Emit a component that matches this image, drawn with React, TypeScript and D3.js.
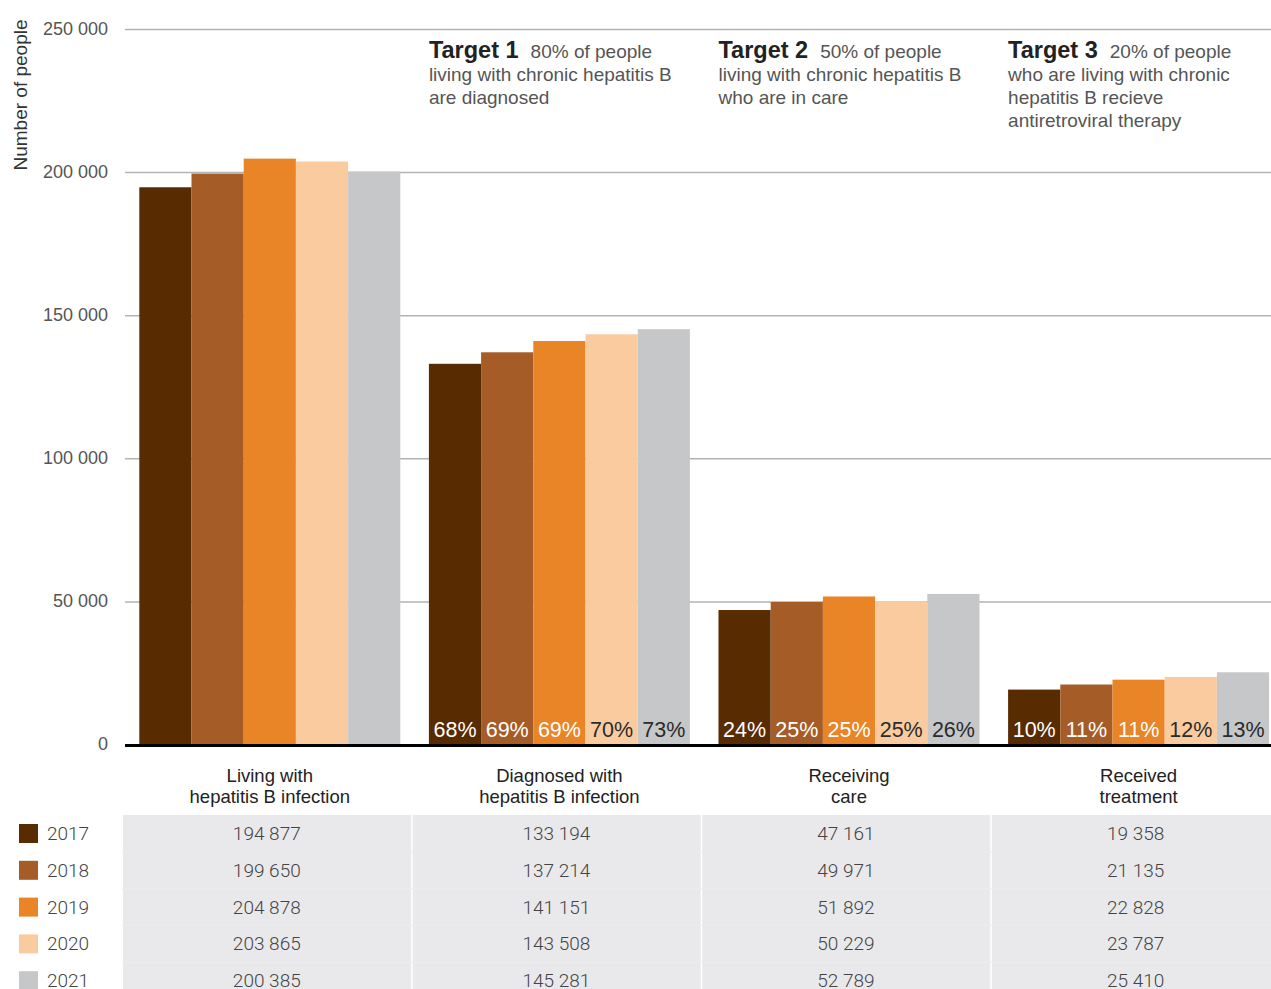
import React from "react";
import * as d3 from "d3";

const categories = [
  ["Living with", "hepatitis B infection"],
  ["Diagnosed with", "hepatitis B infection"],
  ["Receiving", "care"],
  ["Received", "treatment"],
];
const years = ["2017", "2018", "2019", "2020", "2021"];
const colors = ["#582b00", "#a65c26", "#e98427", "#fbcba0", "#c6c7c9"];
const labelColors = ["#ffffff", "#ffffff", "#ffffff", "#2b2b2b", "#2b2b2b"];
const values2017 = [194877, 133194, 47161, 19358];
const values2018 = [199650, 137214, 49971, 21135];
const values2019 = [204878, 141151, 51892, 22828];
const values2020 = [203865, 143508, 50229, 23787];
const values2021 = [200385, 145281, 52789, 25410];
const seriesValues = [values2017, values2018, values2019, values2020, values2021];
const percentLabels = [
  [null, "68%", "24%", "10%"],
  [null, "69%", "25%", "11%"],
  [null, "69%", "25%", "11%"],
  [null, "70%", "25%", "12%"],
  [null, "73%", "26%", "13%"],
];
const yTicks = [0, 50000, 100000, 150000, 200000, 250000];
const targets = [
  { title: "Target 1", lines: ["80% of people", "living with chronic hepatitis B", "are diagnosed"] },
  { title: "Target 2", lines: ["50% of people", "living with chronic hepatitis B", "who are in care"] },
  { title: "Target 3", lines: ["20% of people", "who are living with chronic", "hepatitis B recieve", "antiretroviral therapy"] },
];

const W = 1271;
const H = 989;

const fmt = (v: number) => d3.format(",")(v).replace(/,/g, " ");

export default function App() {
  const y = d3.scaleLinear().domain([0, 250000]).range([745, 29.5]);
  const x0 = d3
    .scaleBand<number>()
    .domain(categories.map((_, i) => i))
    .range([125, 125 + 289.6 * 4])
    .padding(0);
  const bw = x0.bandwidth();
  const x1 = d3.scaleBand<string>().domain(years).range([14.3, bw - 14.3]).padding(0);

  const tableTop = 815;
  const rowH = 36.8;
  const sans = "'Liberation Sans', Arial, sans-serif";
  const light = "Roboto, 'Liberation Sans', sans-serif";

  return (
    <svg
      width={W}
      height={H}
      style={{ position: "absolute", left: 0, top: 0, display: "block", background: "#fff" }}
    >
      {/* gridlines */}
      {yTicks.slice(1).map((t) => (
        <line key={t} x1={125} x2={W} y1={y(t)} y2={y(t)} stroke="#b3b3b3" strokeWidth={1.5} />
      ))}
      {/* tick labels */}
      {yTicks.map((t) => (
        <text
          key={t}
          x={108}
          y={y(t) + 5}
          textAnchor="end"
          fontFamily={sans}
          fontSize={18}
          fill="#555"
        >
          {t === 0 ? "0" : fmt(t)}
        </text>
      ))}
      <text
        transform={`translate(27,95) rotate(-90)`}
        textAnchor="middle"
        fontFamily={sans}
        fontSize={19}
        fill="#333"
      >
        Number of people
      </text>

      {/* bars */}
      {seriesValues.map((vals, s) =>
        vals.map((v, c) => {
          const bx = (x0(c) as number) + (x1(years[s]) as number);
          return (
            <rect
              key={`${s}-${c}`}
              x={bx}
              y={y(v)}
              width={x1.bandwidth()}
              height={y(0) - y(v)}
              fill={colors[s]}
            />
          );
        })
      )}
      {/* percent labels */}
      {percentLabels.map((row, s) =>
        row.map((lab, c) =>
          lab ? (
            <text
              key={`p-${s}-${c}`}
              x={(x0(c) as number) + (x1(years[s]) as number) + x1.bandwidth() / 2}
              y={737}
              textAnchor="middle"
              fontFamily={sans}
              fontSize={21.5}
              fill={labelColors[s]}
            >
              {lab}
            </text>
          ) : null
        )
      )}
      {/* baseline */}
      <line x1={125} x2={W} y1={y(0) + 0.5} y2={y(0) + 0.5} stroke="#000" strokeWidth={3} />

      {/* targets */}
      {targets.map((t, i) => {
        const tx = (x0(i + 1) as number) + (x1(years[0]) as number);
        return (
          <g key={t.title}>
            <text x={tx} y={58} fontFamily={sans} fill="#555" fontSize={19}>
              <tspan fontWeight="bold" fontSize={23.5} fill="#222">
                {t.title}
              </tspan>
              <tspan dx={12}>{t.lines[0]}</tspan>
            </text>
            {t.lines.slice(1).map((l, j) => (
              <text key={j} x={tx} y={81 + j * 23} fontFamily={sans} fill="#555" fontSize={19}>
                {l}
              </text>
            ))}
          </g>
        );
      })}

      {/* category labels */}
      {categories.map((lines, c) => (
        <g key={`cat-${c}`}>
          {lines.map((l, j) => (
            <text
              key={j}
              x={(x0(c) as number) + bw / 2}
              y={782 + j * 21}
              textAnchor="middle"
              fontFamily={sans}
              fontSize={18.5}
              fill="#222"
            >
              {l}
            </text>
          ))}
        </g>
      ))}

      {/* table */}
      {categories.map((_, c) => (
        <rect
          key={`cell-${c}`}
          x={(x0(c) as number) - 2}
          y={tableTop}
          width={bw - 1.5}
          height={H - tableTop}
          fill="#e9e9eb"
        />
      ))}
      {years.slice(1).map((_, r) => (
        <line
          key={`rl-${r}`}
          x1={122}
          x2={W}
          y1={tableTop + (r + 1) * rowH}
          y2={tableTop + (r + 1) * rowH}
          stroke="#ececee"
          strokeWidth={1}
        />
      ))}
      {seriesValues.map((vals, s) => (
        <g key={`row-${s}`}>
          <rect x={19} y={tableTop + 9 + s * rowH} width={19} height={19} fill={colors[s]} />
          <text
            x={47}
            y={tableTop + 25 + s * rowH}
            fontFamily={light}
            fontWeight={300}
            fontSize={19}
            fill="#444"
          >
            {years[s]}
          </text>
          {vals.map((v, c) => (
            <text
              key={c}
              x={(x0(c) as number) + bw / 2 - 3}
              y={tableTop + 25 + s * rowH}
              textAnchor="middle"
              fontFamily={light}
              fontWeight={300}
              fontSize={19}
              fill="#444"
            >
              {fmt(v)}
            </text>
          ))}
        </g>
      ))}
    </svg>
  );
}
